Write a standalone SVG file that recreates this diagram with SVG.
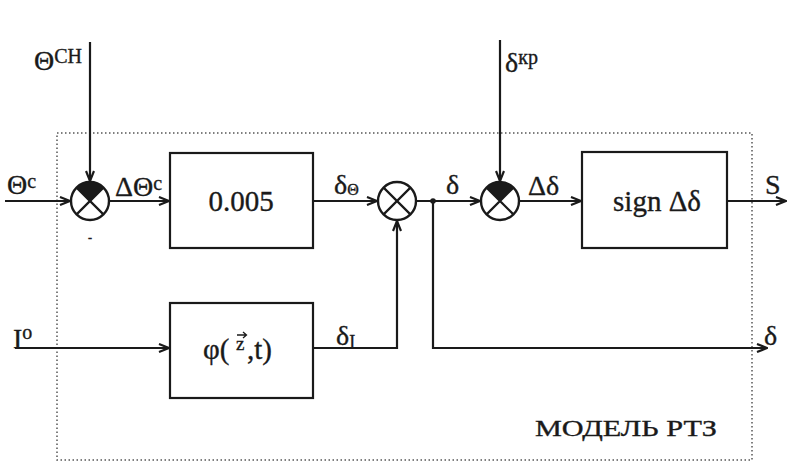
<svg xmlns="http://www.w3.org/2000/svg" width="788" height="462" viewBox="0 0 788 462">
<defs>
<style>
.ln{stroke:#1a1a1a;stroke-width:2.2;fill:none}
.bx{stroke:#1a1a1a;stroke-width:2.2;fill:none}
.frame{stroke:#555;stroke-width:1.5;fill:none;stroke-dasharray:1.5 2.5}
.t{font-family:"Liberation Serif","DejaVu Serif",serif;fill:#1a1a1a;stroke:#1a1a1a;stroke-width:0.35}
.blk{font-size:29px;text-anchor:middle}
.lb{font-size:28px}
.sup{font-size:20px}
</style>
<marker id="ar" viewBox="0 0 12 10" refX="11" refY="5" markerWidth="12" markerHeight="10" markerUnits="userSpaceOnUse" orient="auto">
<path d="M1,1 L11,5 L1,9" fill="none" stroke="#1a1a1a" stroke-width="2.2"/>
</marker>
<g id="sumshape">
<circle cx="0" cy="0" r="19" fill="#fff" stroke="#1a1a1a" stroke-width="2.4"/>
<path d="M0,0 L-13.4,-13.4 A19,19 0 0 1 13.4,-13.4 Z" fill="#1a1a1a"/>
<path d="M-13.4,-13.4 L13.4,13.4 M13.4,-13.4 L-13.4,13.4" stroke="#1a1a1a" stroke-width="2.2"/>
</g>
<g id="sumplain">
<circle cx="0" cy="0" r="19" fill="#fff" stroke="#1a1a1a" stroke-width="2.4"/>
<path d="M-13.4,-13.4 L13.4,13.4 M13.4,-13.4 L-13.4,13.4" stroke="#1a1a1a" stroke-width="2.2"/>
</g>
</defs>
<rect width="788" height="462" fill="#fff"/>
<rect class="frame" x="57" y="133" width="695" height="327"/>

<g id="connectors">
<path class="ln" d="M90,42 V181" marker-end="url(#ar)"/>
<path class="ln" d="M5,201 H70" marker-end="url(#ar)"/>
<path class="ln" d="M109,201 H169" marker-end="url(#ar)"/>
<path class="ln" d="M313,201 H377" marker-end="url(#ar)"/>
<path class="ln" d="M416,201 H480" marker-end="url(#ar)"/>
<circle cx="433" cy="201" r="2.8" fill="#1a1a1a"/>
<path class="ln" d="M433,201 V348 H767" marker-end="url(#ar)"/>
<path class="ln" d="M500,40 V181" marker-end="url(#ar)"/>
<path class="ln" d="M519,201 H581" marker-end="url(#ar)"/>
<path class="ln" d="M727,201 H786" marker-end="url(#ar)"/>
<path class="ln" d="M15,348 H169" marker-end="url(#ar)"/>
<path class="ln" d="M313,348 H397 V221" marker-end="url(#ar)"/>
</g>

<g id="sum1"><use href="#sumshape" x="90" y="201"/><text class="t" x="90" y="242" font-size="12" text-anchor="middle">-</text></g>
<g id="sum2"><use href="#sumplain" x="397" y="201"/></g>
<g id="sum3"><use href="#sumshape" x="500" y="201"/></g>

<g id="gain"><rect class="bx" x="170" y="153" width="143" height="95"/><text class="t blk" x="241" y="211">0.005</text></g>
<g id="sign"><rect class="bx" x="582" y="152" width="145" height="96"/><text class="t blk" x="657" y="211">sign Δδ</text></g>
<g id="phi"><rect class="bx" x="170" y="303" width="143" height="95"/>
<text class="t" x="203" y="359" font-size="29">φ(</text>
<text class="t" x="236" y="350" font-size="19">z</text>
<path d="M237,335 H246 M243,332 L246.5,335 L243,338" stroke="#1a1a1a" stroke-width="1.3" fill="none"/>
<text class="t" x="247" y="359" font-size="29">,t)</text>
</g>

<g id="labels">
<text class="t lb" x="34" y="70">Θ<tspan class="sup" dy="-7">CH</tspan></text>
<text class="t lb" x="7" y="194">Θ<tspan class="sup" dy="-6">c</tspan></text>
<text class="t lb" x="115" y="196">ΔΘ<tspan class="sup" dy="-6">c</tspan></text>
<text class="t lb" x="334" y="194">δ<tspan font-size="16" dy="1">Θ</tspan></text>
<text class="t lb" x="446" y="194">δ</text>
<text class="t lb" x="505" y="72">δ<tspan class="sup" dy="-8">кр</tspan></text>
<text class="t lb" x="528" y="195">Δδ</text>
<text class="t lb" x="765" y="194">S</text>
<text class="t lb" x="764" y="345">δ</text>
<text class="t lb" x="336" y="345">δ<tspan font-size="18" dy="3">I</tspan></text>
<text class="t lb" x="13" y="348">I<tspan class="sup" dy="-9">o</tspan></text>
<text class="t" x="535" y="436" font-size="24" textLength="182" lengthAdjust="spacingAndGlyphs">МОДЕЛЬ РТЗ</text>
</g>
</svg>
